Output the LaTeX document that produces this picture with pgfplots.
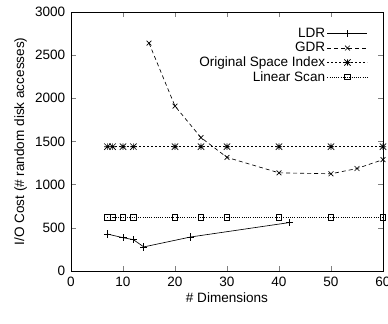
\documentclass[border=0pt]{standalone}
\usepackage{fontspec}
\setmainfont{Liberation Sans}
\usepackage{pgfplots}
\pgfplotsset{compat=1.18}
\pgfdeclareplotmark{star8}{%
  \pgfpathmoveto{\pgfqpoint{-\pgfplotmarksize}{0pt}}\pgfpathlineto{\pgfqpoint{\pgfplotmarksize}{0pt}}%
  \pgfpathmoveto{\pgfqpoint{0pt}{-\pgfplotmarksize}}\pgfpathlineto{\pgfqpoint{0pt}{\pgfplotmarksize}}%
  \pgfpathmoveto{\pgfqpoint{-\pgfplotmarksize}{-\pgfplotmarksize}}\pgfpathlineto{\pgfqpoint{\pgfplotmarksize}{\pgfplotmarksize}}%
  \pgfpathmoveto{\pgfqpoint{-\pgfplotmarksize}{\pgfplotmarksize}}\pgfpathlineto{\pgfqpoint{\pgfplotmarksize}{-\pgfplotmarksize}}%
  \pgfusepathqstroke}
\begin{document}
\fontsize{13.6}{16}\selectfont
\begin{tikzpicture}
\path[use as bounding box] (-71bp,-53bp) rectangle (317bp,271bp);
\begin{axis}[
  at={(0,0)}, anchor=south west,
  scale only axis, width=312bp, height=259bp,
  xmin=0, xmax=60, ymin=0, ymax=3000,
  xtick={0,10,20,30,40,50,60},
  ytick={0,500,1000,1500,2000,2500,3000},
  tick align=inside, major tick length=5bp,
  axis line style={line width=0.9bp},
  tick style={line width=0.6bp},
  /pgf/number format/assume math mode=true,
  /pgf/number format/1000 sep={},
  xticklabel style={yshift=-1bp},
  yticklabel style={xshift=-1bp},
  xlabel={\# Dimensions},
  ylabel={I/O Cost (\# random disk accesses)},
  xlabel style={yshift=3bp},
  ylabel style={yshift=-1bp},
  legend cell align=right,
  legend plot pos=right,
  legend style={draw=none, fill=none, at={(0.955,0.95)}, anchor=north east,
    row sep=-1.2bp, inner sep=1bp,
    /tikz/every even column/.append style={column sep=4bp}},
  legend image code/.code={\draw[mark repeat=2,mark phase=2,#1] plot coordinates {(0bp,0bp)(20bp,0bp)(40bp,0bp)};},
  every axis plot/.append style={line width=0.65bp, black},
]
\addplot[mark=+, mark size=3.6bp, solid] coordinates {
 (7,428) (10,386) (12,363) (14,279) (23,394) (42,561)};
\addlegendentry{LDR}
\addplot[mark=x, mark size=3.4bp, dash pattern=on 4bp off 3bp, mark options={solid}] coordinates {
 (15,2640) (20,1910) (25,1545) (30,1316) (40,1137) (50,1126) (55,1187) (60,1290)};
\addlegendentry{GDR}
\addplot[mark=star8, mark size=3.2bp, dash pattern=on 2bp off 2bp, mark options={solid}] coordinates {
 (7,1440) (8,1440) (10,1440) (12,1440) (20,1440) (25,1440) (30,1440) (40,1440) (50,1440) (60,1440)};
\addlegendentry{Original Space Index}
\addplot[mark=square, mark size=2.7bp, dash pattern=on 1bp off 1.2bp, mark options={solid}] coordinates {
 (7,622) (8,622) (10,622) (12,622) (20,622) (25,622) (30,622) (40,622) (50,622) (60,622)};
\addlegendentry{Linear Scan}
\end{axis}
\end{tikzpicture}
\end{document}
